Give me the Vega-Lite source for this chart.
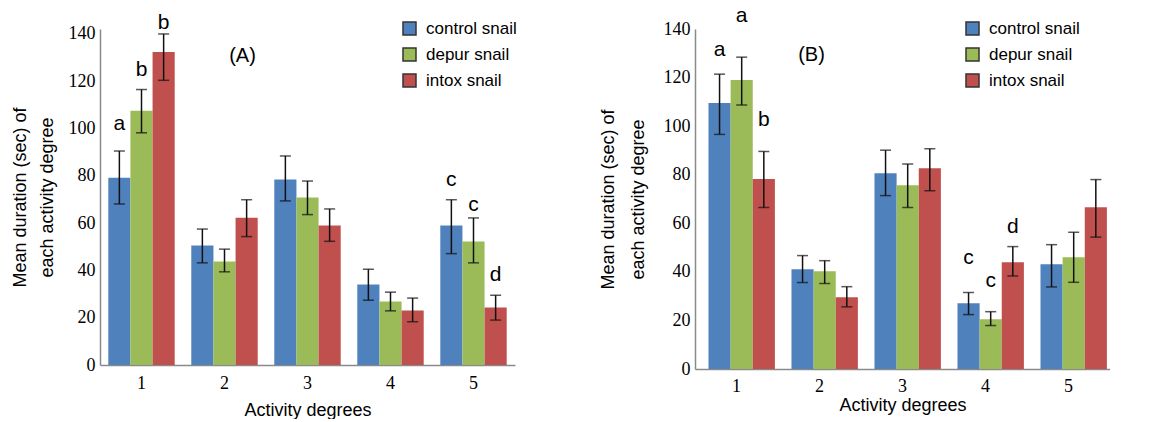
{
  "$schema": "https://vega.github.io/schema/vega-lite/v6.json",
  "background": "white",
  "padding": {"left": 11, "top": 5, "right": 0, "bottom": 0},
  "bounds": "flush",
  "spacing": 180,
  "resolve": {"scale": {"color": "independent"}, "legend": {"color": "independent"}},
  "config": {
    "view": {"stroke": null},
    "axis": {"grid": false, "ticks": false, "domainColor": "#8a8a8a", "domainWidth": 1.5,
      "labelFont": "Liberation Serif", "labelFontSize": 18, "labelColor": "#000",
      "titleFont": "Liberation Sans", "titleFontSize": 18, "titleFontWeight": "normal", "titleColor": "#000"},
    "legend": {"labelFont": "Liberation Sans", "labelFontSize": 17, "labelColor": "#000", "symbolType": "square",
      "symbolSize": 169, "symbolStrokeWidth": 1.5, "symbolStrokeColor": "#333", "rowPadding": 7, "labelOffset": 8, "symbolOpacity": 1},
    "text": {"font": "Liberation Sans"}
  },
  "datasets": {
    "A": [
      {"deg": "1", "grp": "control snail", "mean": 79.2, "lo": 68.1, "hi": 90.5, "letter": "a", "ly": 99.4},
      {"deg": "1", "grp": "depur snail", "mean": 107.5, "lo": 98.2, "hi": 116.5, "letter": "b", "ly": 122.2},
      {"deg": "1", "grp": "intox snail", "mean": 132.4, "lo": 120.4, "hi": 140, "letter": "b", "ly": 142.1},
      {"deg": "2", "grp": "control snail", "mean": 50.5, "lo": 43.2, "hi": 57.5, "letter": "", "ly": 0},
      {"deg": "2", "grp": "depur snail", "mean": 43.8, "lo": 39.4, "hi": 49, "letter": "", "ly": 0},
      {"deg": "2", "grp": "intox snail", "mean": 62.3, "lo": 54.3, "hi": 69.9, "letter": "", "ly": 0},
      {"deg": "3", "grp": "control snail", "mean": 78.4, "lo": 69.4, "hi": 88.4, "letter": "", "ly": 0},
      {"deg": "3", "grp": "depur snail", "mean": 70.8, "lo": 63.6, "hi": 77.8, "letter": "", "ly": 0},
      {"deg": "3", "grp": "intox snail", "mean": 59, "lo": 52.3, "hi": 66, "letter": "", "ly": 0},
      {"deg": "4", "grp": "control snail", "mean": 34, "lo": 27.4, "hi": 40.5, "letter": "", "ly": 0},
      {"deg": "4", "grp": "depur snail", "mean": 26.9, "lo": 22.9, "hi": 30.8, "letter": "", "ly": 0},
      {"deg": "4", "grp": "intox snail", "mean": 23.1, "lo": 18.3, "hi": 28.3, "letter": "", "ly": 0},
      {"deg": "5", "grp": "control snail", "mean": 59, "lo": 47.1, "hi": 69.9, "letter": "c", "ly": 75.7},
      {"deg": "5", "grp": "depur snail", "mean": 52.2, "lo": 43.2, "hi": 62.2, "letter": "c", "ly": 65.1},
      {"deg": "5", "grp": "intox snail", "mean": 24.3, "lo": 19, "hi": 29.5, "letter": "d", "ly": 35.5}
    ],
    "B": [
      {"deg": "1", "grp": "control snail", "mean": 109.5, "lo": 96.6, "hi": 121.4, "letter": "a", "ly": 128.7},
      {"deg": "1", "grp": "depur snail", "mean": 119, "lo": 108.7, "hi": 128.4, "letter": "a", "ly": 142.7},
      {"deg": "1", "grp": "intox snail", "mean": 78.2, "lo": 66.5, "hi": 89.6, "letter": "b", "ly": 99.9},
      {"deg": "2", "grp": "control snail", "mean": 41.1, "lo": 35.6, "hi": 46.7, "letter": "", "ly": 0},
      {"deg": "2", "grp": "depur snail", "mean": 40.3, "lo": 35.2, "hi": 44.6, "letter": "", "ly": 0},
      {"deg": "2", "grp": "intox snail", "mean": 29.5, "lo": 25.6, "hi": 33.9, "letter": "", "ly": 0},
      {"deg": "3", "grp": "control snail", "mean": 80.6, "lo": 71.4, "hi": 90.1, "letter": "", "ly": 0},
      {"deg": "3", "grp": "depur snail", "mean": 75.7, "lo": 66.5, "hi": 84.4, "letter": "", "ly": 0},
      {"deg": "3", "grp": "intox snail", "mean": 82.7, "lo": 73.4, "hi": 90.7, "letter": "", "ly": 0},
      {"deg": "4", "grp": "control snail", "mean": 27.1, "lo": 22.4, "hi": 31.5, "letter": "c", "ly": 43.3},
      {"deg": "4", "grp": "depur snail", "mean": 20.5, "lo": 17.9, "hi": 23.6, "letter": "c", "ly": 33.9},
      {"deg": "4", "grp": "intox snail", "mean": 44, "lo": 38.3, "hi": 50.4, "letter": "d", "ly": 55.9},
      {"deg": "5", "grp": "control snail", "mean": 43.1, "lo": 33.8, "hi": 51.2, "letter": "", "ly": 0},
      {"deg": "5", "grp": "depur snail", "mean": 46, "lo": 35.7, "hi": 56.3, "letter": "", "ly": 0},
      {"deg": "5", "grp": "intox snail", "mean": 66.6, "lo": 54.3, "hi": 78, "letter": "", "ly": 0}
    ]
  },
  "hconcat": [
    {
      "width": 415,
      "height": 336,
      "data": {"name": "A"},
      "encoding": {
        "x": {"field": "deg", "type": "nominal", "title": "Activity degrees",
          "scale": {"paddingInner": 0.2, "paddingOuter": 0.1},
          "axis": {"labelAngle": 0, "labelPadding": 9, "titlePadding": 9}}
      },
      "layer": [
        {
          "mark": {"type": "bar"},
          "encoding": {
            "y": {"field": "mean", "type": "quantitative", "scale": {"domain": [0, 142.1], "nice": false},
              "title": ["Mean duration (sec) of", "each activity degree"],
              "axis": {"values": [0, 20, 40, 60, 80, 100, 120, 140], "labelPadding": 5, "titlePadding": 12, "titleLineHeight": 27}},
            "xOffset": {"field": "grp", "type": "nominal", "scale": {"paddingInner": 0, "paddingOuter": 0}},
            "color": {"field": "grp", "type": "nominal",
              "scale": {"domain": ["control snail", "depur snail", "intox snail"], "range": ["#4F81BD", "#9BBB59", "#C0504D"]},
              "legend": {"title": null, "orient": "none", "legendX": 301, "legendY": -9,
                "encode": {"symbols": {"update": {"fill": {"signal": "datum.value === 'control snail' ? '#0A78CC' : datum.value === 'depur snail' ? '#9BBB59' : '#C0504D'"}, "stroke": {"value": "#333"}}}}}}
          }
        },
        {
          "mark": {"type": "rule", "color": "#111", "strokeWidth": 1.5},
          "encoding": {
            "y": {"field": "lo", "type": "quantitative"},
            "y2": {"field": "hi"},
            "xOffset": {"field": "grp", "type": "nominal"}
          }
        },
        {
          "mark": {"type": "tick", "color": "#111", "thickness": 1.5, "size": 11},
          "encoding": {
            "y": {"field": "hi", "type": "quantitative"},
            "xOffset": {"field": "grp", "type": "nominal"}
          }
        },
        {
          "mark": {"type": "tick", "color": "#111", "thickness": 1.5, "size": 11},
          "encoding": {
            "y": {"field": "lo", "type": "quantitative"},
            "xOffset": {"field": "grp", "type": "nominal"}
          }
        },
        {
          "transform": [{"filter": "datum.letter != ''"}],
          "mark": {"type": "text", "fontSize": 21, "baseline": "alphabetic", "color": "#000"},
          "encoding": {
            "y": {"field": "ly", "type": "quantitative"},
            "xOffset": {"field": "grp", "type": "nominal"},
            "text": {"field": "letter"}
          }
        },
        {
          "data": {"values": [{"deg": "2", "py": 130.7, "lab": "(A)"}]},
          "mark": {"type": "text", "fontSize": 20, "baseline": "middle", "dx": 18, "color": "#000"},
          "encoding": {
            "y": {"field": "py", "type": "quantitative"},
            "text": {"field": "lab"}
          }
        }
      ]
    },
    {
      "width": 415,
      "height": 340,
      "data": {"name": "B"},
      "encoding": {
        "x": {"field": "deg", "type": "nominal", "title": "Activity degrees",
          "scale": {"paddingInner": 0.325, "paddingOuter": 0.1625},
          "axis": {"labelAngle": 0, "labelPadding": 8, "titlePadding": 1}}
      },
      "layer": [
        {
          "mark": {"type": "bar"},
          "encoding": {
            "y": {"field": "mean", "type": "quantitative", "scale": {"domain": [0, 140], "nice": false},
              "title": ["Mean duration (sec) of", "each activity degree"],
              "axis": {"values": [0, 20, 40, 60, 80, 100, 120, 140], "labelPadding": 5, "titlePadding": 16, "titleLineHeight": 30}},
            "xOffset": {"field": "grp", "type": "nominal", "scale": {"paddingInner": 0, "paddingOuter": 0}},
            "color": {"field": "grp", "type": "nominal",
              "scale": {"domain": ["control snail", "depur snail", "intox snail"], "range": ["#4F81BD", "#9BBB59", "#C0504D"]},
              "legend": {"title": null, "orient": "none", "legendX": 269, "legendY": -9,
                "encode": {"symbols": {"update": {"fill": {"signal": "datum.value === 'control snail' ? '#0A78CC' : datum.value === 'depur snail' ? '#9BBB59' : '#C0504D'"}, "stroke": {"value": "#333"}}}}}}
          }
        },
        {
          "mark": {"type": "rule", "color": "#111", "strokeWidth": 1.5},
          "encoding": {
            "y": {"field": "lo", "type": "quantitative"},
            "y2": {"field": "hi"},
            "xOffset": {"field": "grp", "type": "nominal"}
          }
        },
        {
          "mark": {"type": "tick", "color": "#111", "thickness": 1.5, "size": 11},
          "encoding": {
            "y": {"field": "hi", "type": "quantitative"},
            "xOffset": {"field": "grp", "type": "nominal"}
          }
        },
        {
          "mark": {"type": "tick", "color": "#111", "thickness": 1.5, "size": 11},
          "encoding": {
            "y": {"field": "lo", "type": "quantitative"},
            "xOffset": {"field": "grp", "type": "nominal"}
          }
        },
        {
          "transform": [{"filter": "datum.letter != ''"}],
          "mark": {"type": "text", "fontSize": 21, "baseline": "alphabetic", "color": "#000"},
          "encoding": {
            "y": {"field": "ly", "type": "quantitative"},
            "xOffset": {"field": "grp", "type": "nominal"},
            "text": {"field": "letter"}
          }
        },
        {
          "data": {"values": [{"deg": "2", "py": 129.4, "lab": "(B)"}]},
          "mark": {"type": "text", "fontSize": 20, "baseline": "middle", "dx": -8, "color": "#000"},
          "encoding": {
            "y": {"field": "py", "type": "quantitative"},
            "text": {"field": "lab"}
          }
        }
      ]
    }
  ]
}
